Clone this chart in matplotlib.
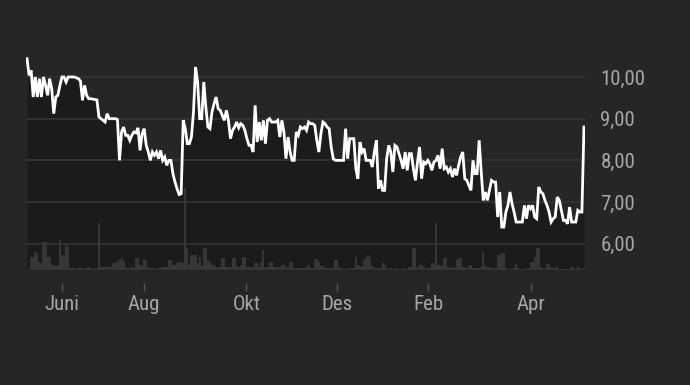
import matplotlib
matplotlib.use("Agg")
import matplotlib.pyplot as plt
from matplotlib import font_manager
import numpy as np

# ---- data ----
prices = [
    # May - Aug
    10.44, 10.04, 10.16, 9.52, 10.0, 9.52, 9.96, 9.52, 10.0, 9.8, 9.56, 9.96, 9.72, 9.12, 9.52, 9.56,
    9.8, 10.0, 10.0, 9.88, 10.0, 10.0, 10.0, 10.0, 9.98, 9.96, 9.9, 9.44, 9.8, 9.56, 9.48, 9.48,
    9.47, 9.46, 9.45, 9.04, 9.0, 8.96, 8.92, 9.12, 9.0, 9.0, 9.0, 9.0, 8.98, 8.0, 8.68, 8.8,
    8.6, 8.6, 8.48, 8.6, 8.68, 8.66, 8.78, 8.24, 8.64, 8.76, 8.36, 8.2, 8.0, 8.2, 8.12, 8.2,
    8.04, 8.24,
    # Aug - Nov
    8.0, 8.08, 7.88, 8.0, 8.0, 7.68, 7.48, 7.32, 7.18, 7.2, 8.96, 8.76, 8.4, 8.4, 8.56, 9.16,
    10.24, 9.88, 9.0, 9.0, 9.88, 9.28, 8.8, 8.76, 9.16, 9.36, 9.52, 9.24, 9.2, 9.08, 8.96, 9.2,
    8.96, 8.52, 8.72, 8.8, 8.92, 8.78, 8.88, 8.84, 8.72, 8.52, 8.36, 8.36, 8.2, 9.32, 8.44, 8.92,
    8.48, 8.96, 8.4, 8.96, 9.0, 8.92, 8.92, 8.92, 8.96, 8.56, 8.96, 8.68, 8.04, 8.56, 8.2, 8.0,
    8.0, 8.68, 8.6, 8.8, 8.76,
    # Nov - Feb
    8.8, 8.72, 8.92, 8.88, 8.88, 8.84, 8.48, 8.2, 8.64, 8.92, 8.88, 8.8, 8.76, 8.32, 8.04, 8.0,
    8.0, 8.0, 8.0, 8.0, 8.76, 8.04, 8.52, 8.52, 8.52, 7.8, 7.56, 8.44, 8.2, 8.28, 8.0, 8.0,
    8.0, 7.84, 8.2, 8.48, 7.32, 7.52, 7.28, 7.28, 8.04, 8.36, 8.2, 7.72, 8.36, 8.32, 8.16, 8.0,
    7.8, 8.2, 7.76, 8.16, 8.16, 7.8, 7.52, 7.96, 8.32, 7.56, 7.96, 7.92, 8.0, 7.92, 7.76, 7.96,
    8.0, 8.12, 7.8, 8.28,
    # Feb - Apr
    7.8, 7.84, 7.72, 7.8, 7.6, 7.8, 7.64, 7.88, 8.08, 8.2, 7.56, 7.52, 7.4, 7.28, 8.0, 7.68,
    7.68, 8.48, 7.72, 7.04, 7.24, 7.04, 7.28, 7.52, 7.48, 7.48, 6.64, 7.24, 6.4, 6.4, 6.76, 6.92,
    7.24, 6.96, 6.76, 6.52, 6.52, 6.52, 6.52, 6.92, 6.6, 6.92, 6.84, 6.92, 6.64, 6.6, 7.36, 7.24,
    7.2, 7.04, 6.92, 6.76, 6.52, 6.6, 6.64, 7.12, 7.04, 6.8, 6.56, 6.56, 6.48, 6.88, 6.52, 6.52,
    6.52, 6.8, 6.76, 6.76, 8.8,
]

volumes = [
    0, 3, 40, 40, 55, 50, 25, 20, 85, 85, 40, 40, 15, 15, 12, 15,
    90, 45, 45, 75, 70, 5, 6, 5, 4, 5, 6, 5, 4, 10, 8, 5,
    4, 6, 5, 140, 10, 8, 10, 10, 8, 8, 20, 22, 25, 30, 35, 28,
    8, 6, 6, 8, 6, 35, 35, 15, 12, 33, 30, 10, 6, 5, 5, 4,
    5, 6,
    10, 10, 8, 30, 30, 15, 15, 20, 25, 25, 20, 245, 65, 15, 45, 45,
    45, 20, 40, 12, 65, 65, 30, 25, 15, 15, 8, 10, 8, 35, 35, 10,
    8, 10, 35, 35, 12, 10, 15, 40, 40, 10, 8, 10, 8, 20, 20, 10,
    25, 60, 10, 8, 25, 25, 10, 8, 10, 8, 15, 15, 8, 10, 23, 23,
    6, 6, 5, 6, 6,
    6, 8, 15, 6, 5, 33, 33, 25, 12, 12, 6, 5, 5, 5, 5, 30,
    30, 10, 6, 4, 4, 5, 4, 6, 5, 40, 15, 12, 10, 30, 35, 45,
    40, 12, 8, 5, 5, 5, 20, 15, 5, 4, 5, 4, 5, 4, 3, 3,
    4, 5, 4, 10, 8, 65, 65, 10, 15, 15, 8, 5, 5, 6, 20, 20,
    140, 15, 15, 12,
    35, 35, 8, 6, 8, 6, 30, 37, 37, 8, 8, 6, 15, 15, 6, 5,
    5, 5, 10, 55, 12, 10, 8, 6, 5, 5, 45, 45, 50, 50, 5, 4,
    4, 3, 4, 18, 5, 4, 3, 4, 3, 5, 25, 25, 40, 67, 67, 8,
    6, 6, 18, 18, 8, 6, 6, 12, 4, 3, 3, 3, 3, 3, 12, 5,
    4, 12, 5, 4, 5,
]

tick_positions = [17, 57, 106.7, 150.7, 195.3, 245.2]
tick_labels = ["Juni", "Aug", "Okt", "Des", "Feb", "Apr"]
y_ticks = [6, 7, 8, 9, 10]

# ---- styling ----
BG = "#262626"
FILL = "#1b1b1b"
GRID = "#333333"
BAR = "#363636"
TEXT = "#a6a6a6"


def pick_font():
    for name, size in [("Roboto Condensed", 15), ("Liberation Sans Narrow", 15),
                       ("Open Sans Condensed", 15), ("DejaVu Sans Condensed", 12.5),
                       ("Roboto", 12.5)]:
        try:
            font_manager.findfont(font_manager.FontProperties(family=name),
                                  fallback_to_default=False)
            return name, size
        except Exception:
            continue
    return "DejaVu Sans", 12


FONT_NAME, FONT_SIZE = pick_font()
FONT = [FONT_NAME, "DejaVu Sans"]

y_min, y_max = 5.369, 10.648
vol_top = 660.0  # volume value reaching the top of the axes

fig = plt.figure(figsize=(6.9, 3.85), dpi=100, facecolor=BG)
ax = fig.add_axes([26 / 690, 1 - 270 / 385, (585 - 26) / 690, 220 / 385])
ax.set_facecolor(BG)

x = np.arange(len(prices))
p = np.array(prices)
v = np.array(volumes, dtype=float)

ax.set_xlim(-0.5, len(prices) - 0.5)
ax.set_ylim(y_min, y_max)

ax.fill_between(x, p, y_min, color=FILL, linewidth=0, zorder=1)
for yt in y_ticks:
    ax.axhline(yt, color=GRID, linewidth=1.3, zorder=1.5)

vol_scale = (y_max - y_min) / vol_top
ax.bar(x, v * vol_scale, bottom=y_min, width=1.0, color=BAR, linewidth=0, zorder=2)
ax.plot(x, p, color="white", linewidth=2.0, solid_joinstyle="miter", zorder=3)

for s in ax.spines.values():
    s.set_visible(False)
ax.spines["bottom"].set_position(("outward", 9))

ax.set_xticks(tick_positions)
ax.set_xticklabels(tick_labels)
ax.tick_params(axis="x", length=6, width=1, color="#555555", pad=3,
               labelsize=FONT_SIZE, labelcolor=TEXT)

ax.yaxis.tick_right()
ax.set_yticks(y_ticks)
ax.set_yticklabels([f"{t:.2f}".replace(".", ",") for t in y_ticks])
ax.tick_params(axis="y", length=0, pad=11, labelsize=FONT_SIZE, labelcolor=TEXT)

for lab in ax.get_xticklabels() + ax.get_yticklabels():
    lab.set_family(FONT)

fig.savefig("out.png", dpi=100, facecolor=BG)
